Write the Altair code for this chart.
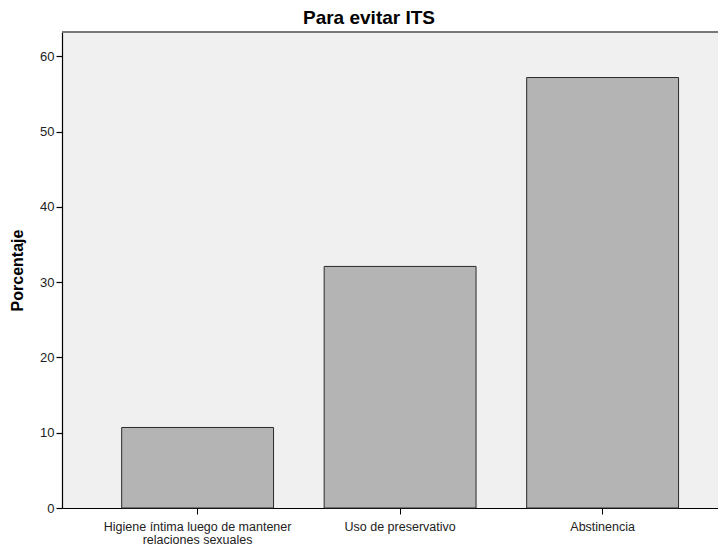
import altair as alt
import pandas as pd

categories = [
    "Higiene íntima luego de mantener\nrelaciones sexuales",
    "Uso de preservativo",
    "Abstinencia",
]
percentages = [10.7, 32.1, 57.2]
y_ticks = [0, 10, 20, 30, 40, 50, 60]

df = pd.DataFrame({"categoria": categories, "porcentaje": percentages})

FONT = "Liberation Sans"
W, H = 656, 476

bars = (
    alt.Chart(df)
    .mark_bar(fill="#b4b4b4", stroke="#2b2b2b", strokeWidth=1)
    .encode(
        x=alt.X(
            "categoria:N",
            sort=categories,
            scale=alt.Scale(paddingInner=0.25, paddingOuter=0.2447, align=0.602),
            axis=alt.Axis(
                title=None,
                labelAngle=0,
                labelExpr="split(datum.label, '\\n')",
                labelLineHeight=13,
                labelFontSize=12.5,
                labelColor="#222222",
                labelPadding=6,
                labelLimit=0,
                tickSize=6,
                tickColor="#000000",
                domainColor="#000000",
                domainWidth=1.2,
                labelFont=FONT,
            ),
        ),
        y=alt.Y(
            "porcentaje:Q",
            scale=alt.Scale(domain=[0, 63.25], nice=False, zero=True),
            axis=alt.Axis(
                title="Porcentaje",
                values=y_ticks,
                grid=False,
                tickSize=6,
                tickColor="#000000",
                tickWidth=1.2,
                domainColor="#000000",
                domainWidth=1.2,
                labelFontSize=13,
                labelColor="#222222",
                labelPadding=2,
                labelFont=FONT,
                titleFont=FONT,
                titleFontSize=16,
                titleFontWeight="bold",
                titleColor="#000000",
                titlePadding=14,
            ),
        ),
    )
)

top_border = (
    alt.Chart(df)
    .mark_rule(color="#666666", strokeWidth=1.2)
    .encode(x=alt.value(0), x2=alt.value(W), y=alt.value(0))
)

chart = (
    alt.layer(bars, top_border)
    .properties(
        width=W,
        height=H,
        title=alt.TitleParams(
            "Para evitar ITS",
            font=FONT,
            fontSize=19,
            fontWeight="bold",
            color="#000000",
            anchor="middle",
            dx=-21,
            offset=3,
        ),
        autosize=alt.AutoSizeParams(type="none"),
        padding={"left": 54, "top": 24, "right": 0, "bottom": 37},
    )
    .configure(background="#ffffff")
    .configure_view(fill="#f0f0f0", stroke=None)
)

chart.save("out.html", embed_options={"renderer": "svg", "actions": False})
